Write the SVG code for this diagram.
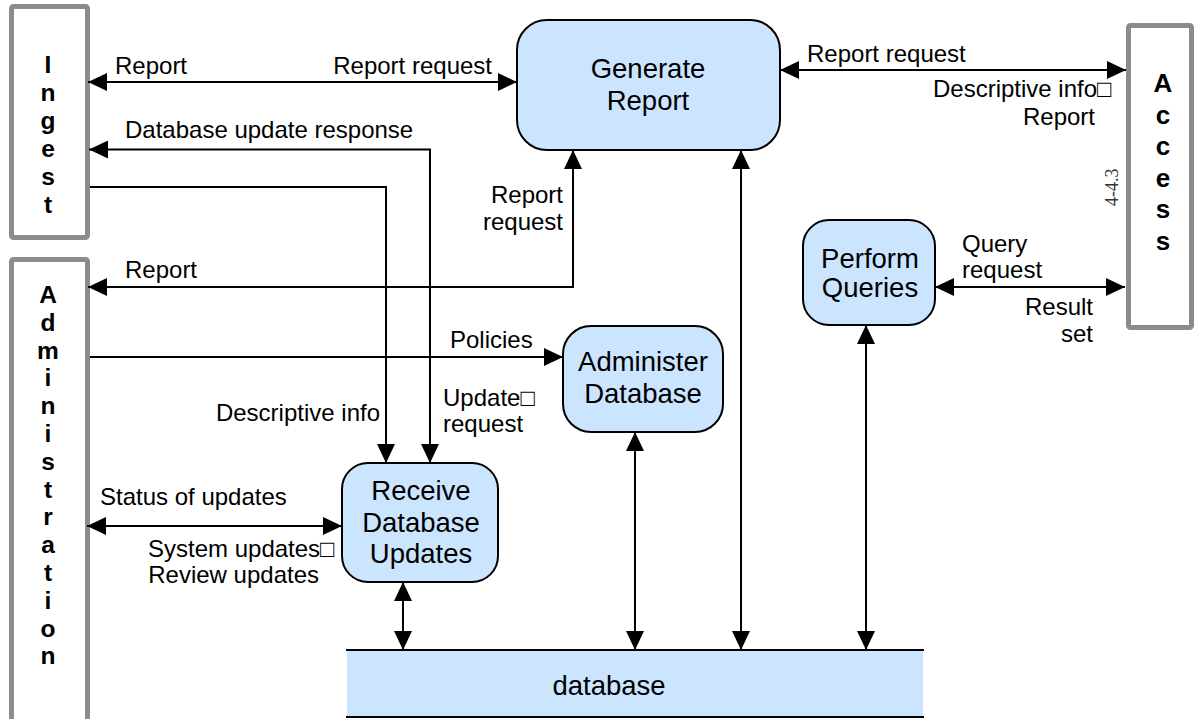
<svg xmlns="http://www.w3.org/2000/svg" width="1195" height="719" viewBox="0 0 1195 719">
<style>
.ext{fill:#fff;stroke:#8c8c8c;stroke-width:5}
.node{fill:#cce5ff;stroke:#000;stroke-width:2}
.ln{fill:none;stroke:#000;stroke-width:2}
.lbl{font-family:"Liberation Sans",Arial,sans-serif;font-size:24px;fill:#000}
.nt{font-family:"Liberation Sans",Arial,sans-serif;font-size:27.5px;fill:#000;text-anchor:middle}
.vt{font-family:"Liberation Sans",Arial,sans-serif;font-size:24.5px;font-weight:bold;fill:#000;text-anchor:middle}
.vt2{font-family:"Liberation Sans",Arial,sans-serif;font-size:26px;font-weight:bold;fill:#000;text-anchor:middle}
.end{text-anchor:end}
</style>
<defs>
<marker id="ah" markerUnits="userSpaceOnUse" markerWidth="19" markerHeight="18" refX="19" refY="9" orient="auto-start-reverse" viewBox="0 0 19 18">
<path d="M0,0 L19,9 L0,18 Z" fill="#000"/>
</marker>
</defs>
<rect width="1195" height="719" fill="#fff"/>

<g id="ingest">
<rect class="ext" x="11.5" y="6.5" width="76" height="231" rx="2"/>
<text class="vt"><tspan x="48" y="73">I</tspan><tspan x="48" y="101">n</tspan><tspan x="48" y="129">g</tspan><tspan x="48" y="157">e</tspan><tspan x="48" y="185">s</tspan><tspan x="48" y="213">t</tspan></text>
</g>

<g id="administration">
<rect class="ext" x="11.5" y="259.5" width="76" height="470" rx="2"/>
<text class="vt"><tspan x="48" y="303">A</tspan><tspan x="48" y="331">d</tspan><tspan x="48" y="359">m</tspan><tspan x="48" y="386">i</tspan><tspan x="48" y="414">n</tspan><tspan x="48" y="442">i</tspan><tspan x="48" y="470">s</tspan><tspan x="48" y="498">t</tspan><tspan x="48" y="525">r</tspan><tspan x="48" y="553">a</tspan><tspan x="48" y="581">t</tspan><tspan x="48" y="609">i</tspan><tspan x="48" y="637">o</tspan><tspan x="48" y="664">n</tspan></text>
</g>

<g id="access">
<rect class="ext" x="1128.5" y="25.5" width="63" height="302" rx="2"/>
<text class="vt2"><tspan x="1163" y="92">A</tspan><tspan x="1163" y="124">c</tspan><tspan x="1163" y="155">c</tspan><tspan x="1163" y="187">e</tspan><tspan x="1163" y="218">s</tspan><tspan x="1163" y="250">s</tspan></text>
</g>

<g id="generate-report">
<rect class="node" x="517" y="20" width="263" height="130" rx="30"/>
<text class="nt"><tspan x="648" y="78">Generate</tspan><tspan x="648" y="110">Report</tspan></text>
</g>

<g id="perform-queries">
<rect class="node" x="803" y="220" width="132" height="105" rx="26"/>
<text class="nt"><tspan x="870" y="268">Perform</tspan><tspan x="870" y="297">Queries</tspan></text>
</g>

<g id="administer-database">
<rect class="node" x="563" y="326" width="160" height="106" rx="28"/>
<text class="nt"><tspan x="643" y="371">Administer</tspan><tspan x="643" y="403">Database</tspan></text>
</g>

<g id="receive-database-updates">
<rect class="node" x="342" y="463" width="156" height="119" rx="26"/>
<text class="nt"><tspan x="421" y="500">Receive</tspan><tspan x="421" y="532">Database</tspan><tspan x="421" y="563">Updates</tspan></text>
</g>

<g id="database">
<rect x="347" y="650" width="576" height="67" fill="#cce5ff"/>
<line class="ln" x1="346" y1="650" x2="924" y2="650"/>
<line class="ln" x1="346" y1="717" x2="924" y2="717"/>
<text class="nt" x="609" y="695">database</text>
</g>

<g id="connectors">
<line class="ln" x1="88" y1="82" x2="517" y2="82" marker-start="url(#ah)" marker-end="url(#ah)"/>
<polyline class="ln" points="430,463 430,149.5 89,149.5" marker-start="url(#ah)" marker-end="url(#ah)"/>
<polyline class="ln" points="90,187 386,187 386,463" marker-end="url(#ah)"/>
<polyline class="ln" points="573,150 573,287 88,287" marker-start="url(#ah)" marker-end="url(#ah)"/>
<line class="ln" x1="90" y1="357" x2="563" y2="357" marker-end="url(#ah)"/>
<line class="ln" x1="87" y1="526" x2="342" y2="526" marker-start="url(#ah)" marker-end="url(#ah)"/>
<line class="ln" x1="403" y1="582" x2="403" y2="650" marker-start="url(#ah)" marker-end="url(#ah)"/>
<line class="ln" x1="635" y1="432" x2="635" y2="650" marker-start="url(#ah)" marker-end="url(#ah)"/>
<line class="ln" x1="741" y1="150" x2="741" y2="650" marker-start="url(#ah)" marker-end="url(#ah)"/>
<line class="ln" x1="866" y1="325" x2="866" y2="650" marker-start="url(#ah)" marker-end="url(#ah)"/>
<line class="ln" x1="780" y1="70" x2="1126" y2="70" marker-start="url(#ah)" marker-end="url(#ah)"/>
<line class="ln" x1="935" y1="287" x2="1125" y2="287" marker-start="url(#ah)" marker-end="url(#ah)"/>
</g>

<g id="labels">
<text class="lbl" x="115" y="74">Report</text>
<text class="lbl end" x="492" y="74">Report request</text>
<text class="lbl" x="125" y="138">Database update response</text>
<text class="lbl end" x="563" y="203">Report</text>
<text class="lbl end" x="563" y="230">request</text>
<text class="lbl" x="125" y="278">Report</text>
<text class="lbl" x="450" y="348">Policies</text>
<text class="lbl end" x="380" y="421">Descriptive info</text>
<text class="lbl" x="443" y="406">Update□</text>
<text class="lbl" x="443" y="432">request</text>
<text class="lbl" x="100" y="505">Status of updates</text>
<text class="lbl" x="148" y="557">System updates□</text>
<text class="lbl end" x="319" y="583">Review updates</text>
<text class="lbl" x="807" y="62">Report request</text>
<text class="lbl" x="933" y="97">Descriptive info□</text>
<text class="lbl end" x="1095" y="125">Report</text>
<text class="lbl" x="962" y="252">Query</text>
<text class="lbl" x="962" y="278">request</text>
<text class="lbl end" x="1093" y="315">Result</text>
<text class="lbl end" x="1093" y="342">set</text>
<text transform="translate(1118,206) rotate(-90)" font-family="'Liberation Serif','Times New Roman',serif" font-size="18" fill="#333">4-4.3</text>
</g>
</svg>
